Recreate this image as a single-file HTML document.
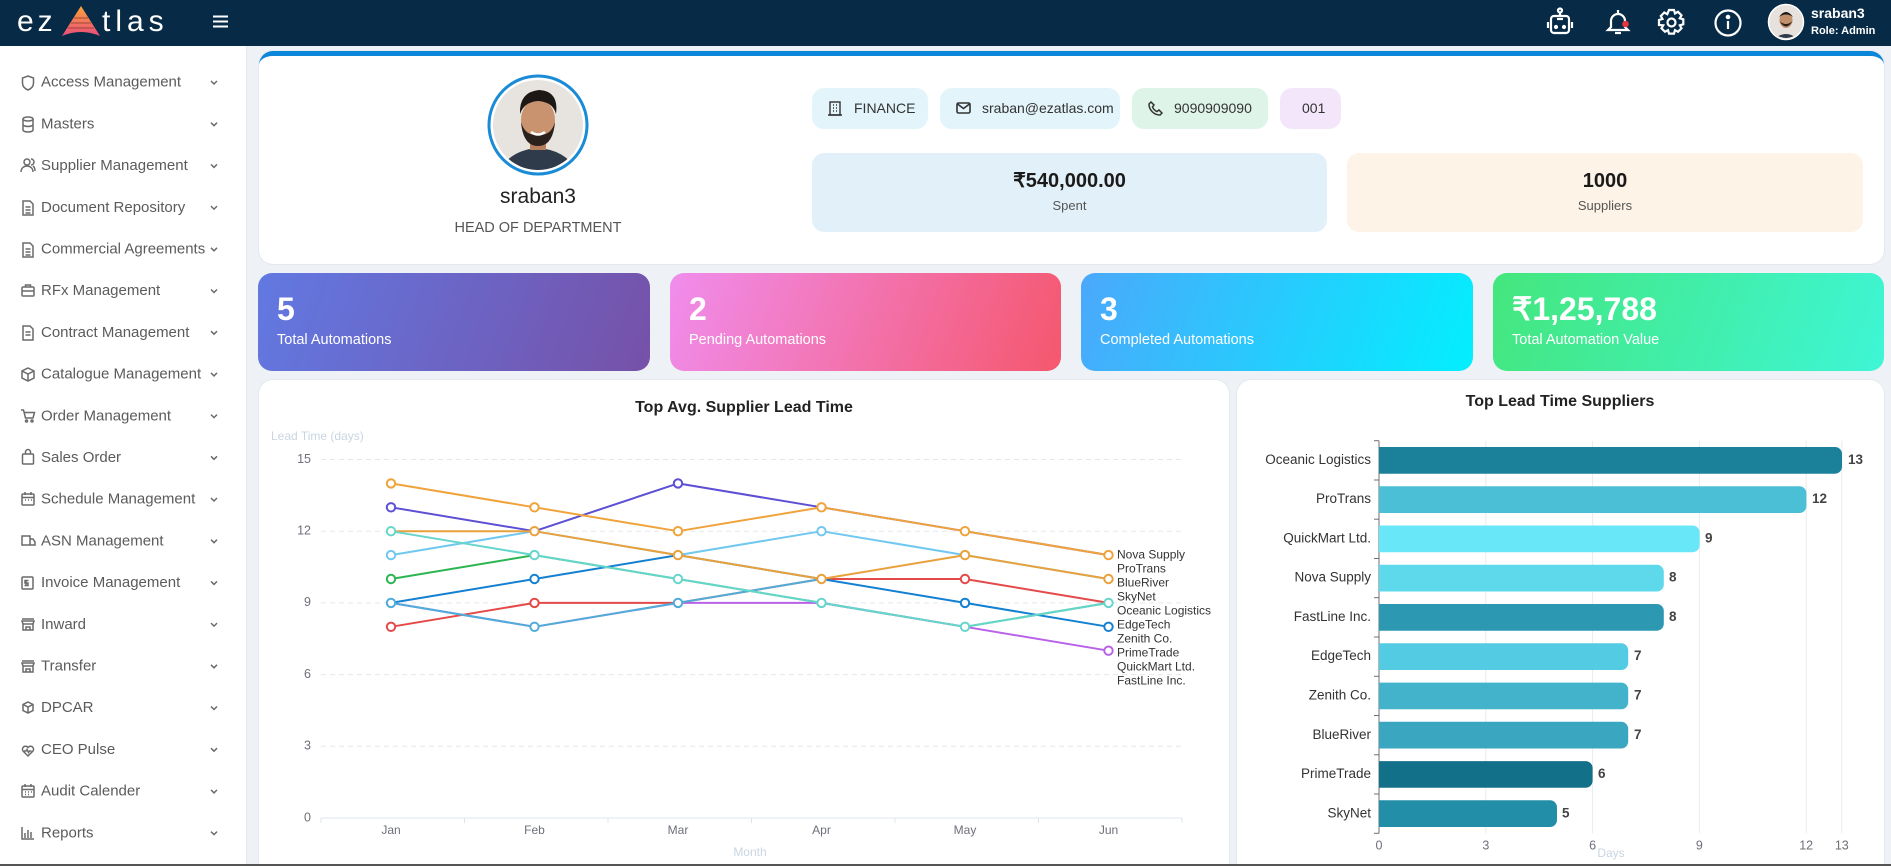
<!DOCTYPE html>
<html><head><meta charset="utf-8">
<style>
*{box-sizing:border-box;margin:0;padding:0}
html{width:1891px;height:866px;overflow:hidden}
body{width:1891px;height:866px;overflow:hidden;position:relative;background:#eef2f6;font-family:"Liberation Sans",Arial,sans-serif;color:#333}
.abs{position:absolute}
#hdr{left:0;top:0;width:1891px;height:46px;background:#072b47}
#side{left:0;top:46px;width:247px;height:820px;background:#fff;border-right:1px solid #e3e8ed}
.card{background:#fff;border-radius:14px}
.tag{position:absolute;top:88px;height:41px;border-radius:12px;font-size:14px;color:#333;line-height:41px}
.kpi{position:absolute;top:273px;height:98px;border-radius:14px;color:#fff}
.kpi .n{position:absolute;left:19px;top:17px;font-size:32px;font-weight:bold;line-height:38px}
.kpi .l{position:absolute;left:19px;top:57px;font-size:14.5px;line-height:20px}
</style></head><body>

<!-- header -->
<div id="hdr" class="abs">
  <div class="abs" style="left:17px;top:2px;font-size:30px;color:#fff;letter-spacing:4px;line-height:40px">ez</div>
  <svg class="abs" style="left:60px;top:5px" width="42" height="33" viewBox="0 0 42 33">
    <defs><linearGradient id="lg" x1="0" y1="0" x2="0" y2="1"><stop offset="0" stop-color="#f9a43a"/><stop offset="1" stop-color="#ec4c7c"/></linearGradient></defs>
    <path d="M21 1 L2 31 Q21 23 40 31 Z" fill="url(#lg)"/>
    <path d="M14 13 H28 M11 18 H31 M8 23 H34" stroke="#7a3a20" stroke-width="1.2" opacity=".55"/>
  </svg>
  <div class="abs" style="left:102px;top:2px;font-size:30px;color:#fff;letter-spacing:5px;line-height:40px">tlas</div>
  <svg class="abs" style="left:212px;top:15px" width="17" height="13"><path d="M1 1.5H16M1 6.5H16M1 11.5H16" stroke="#fff" stroke-width="2"/></svg>
  <svg class="abs" style="left:1545px;top:7px" width="30" height="30" viewBox="0 0 30 30" fill="none" stroke="#fff" stroke-width="2.2">
    <circle cx="15" cy="3.5" r="2"/><path d="M15 5.5V9"/><rect x="6" y="9" width="18" height="17" rx="3"/><path d="M3 15v6M27 15v6"/><circle cx="11" cy="20" r="1" fill="#fff"/><circle cx="19" cy="20" r="1" fill="#fff"/><path d="M12 12h6"/>
  </svg>
  <svg class="abs" style="left:1603px;top:7px" width="30" height="30" viewBox="0 0 30 30" fill="none" stroke="#fff" stroke-width="2.2">
    <path d="M15 3v3M8 20V14a7 7 0 0 1 14 0v6l3 3H5z"/><path d="M12 26h6"/><circle cx="22.5" cy="17" r="3.3" fill="#e8343f" stroke="none"/>
  </svg>
  <svg class="abs" style="left:1657px;top:8px" width="29" height="29" viewBox="0 0 29 29" fill="none" stroke="#fff" stroke-width="2.2">
    <path d="M12 2h5l1 3.5 3-1.7 3.5 3.5-1.7 3 3.5 1v5l-3.5 1 1.7 3-3.5 3.5-3-1.7-1 3.5h-5l-1-3.5-3 1.7-3.5-3.5 1.7-3L2 17v-5l3.5-1-1.7-3 3.5-3.5 3 1.7z"/><circle cx="14.5" cy="14.5" r="4"/>
  </svg>
  <svg class="abs" style="left:1713px;top:8px" width="30" height="30" viewBox="0 0 30 30" fill="none" stroke="#fff" stroke-width="2.2">
    <circle cx="15" cy="15" r="12.5"/><path d="M15 13v8"/><circle cx="15" cy="9" r="1.2" fill="#fff"/>
  </svg>
  <svg class="abs" style="left:1767px;top:3px" width="38" height="38" viewBox="0 0 38 38">
    <circle cx="19" cy="19" r="17.5" fill="#e6e1dc" stroke="#fff" stroke-width="1.5"/>
    <clipPath id="cs"><circle cx="19" cy="19" r="16"/></clipPath>
    <g clip-path="url(#cs)"><path d="M5 38 Q19 24 33 38Z" fill="#2d3848"/><ellipse cx="19" cy="17" rx="6.5" ry="8" fill="#c4906c"/><path d="M12 14 Q19 4 26 14 Q19 9 12 14Z" fill="#1f1a18"/><path d="M12.5 18 Q19 29 25.5 18 Q19 24 12.5 18Z" fill="#2a211d"/></g>
  </svg>
  <div class="abs" style="left:1811px;top:4px;font-size:14px;font-weight:bold;color:#fff;line-height:18px">sraban3</div>
  <div class="abs" style="left:1811px;top:23px;font-size:11px;font-weight:bold;color:#fff;line-height:16px">Role: Admin</div>
</div>

<div id="side" class="abs"></div>

<!-- profile card -->
<div class="abs card" style="left:259px;top:51px;width:1625px;height:213px;border-top:5px solid #0b86d8;box-shadow:0 0 0 1px #e4e9ee"></div>
<svg class="abs" style="left:487px;top:74px" width="102" height="102" viewBox="0 0 102 102">
  <circle cx="51" cy="51" r="49" fill="#fff" stroke="#1a8bd6" stroke-width="3"/>
  <clipPath id="cb"><circle cx="51" cy="51" r="45"/></clipPath>
  <g clip-path="url(#cb)">
    <rect width="102" height="102" fill="#e7e3de"/>
    <path d="M8 104 Q20 76 51 74 Q82 76 94 104Z" fill="#2f3a4b"/>
    <rect x="43" y="62" width="16" height="14" fill="#b57f5c"/>
    <ellipse cx="51" cy="46" rx="17" ry="21" fill="#c8936e"/>
    <path d="M33 40 Q32 18 52 16 Q72 17 69 40 Q66 28 51 27 Q37 28 33 40Z" fill="#1d1816"/>
    <path d="M34 48 Q36 72 51 72 Q66 72 68 48 Q64 62 51 61 Q38 62 34 48Z" fill="#2b211c"/>
    <path d="M44 58 Q51 63 58 58" stroke="#fff" stroke-width="2.5" fill="none"/>
  </g>
</svg>
<div class="abs" style="left:438px;top:184px;width:200px;text-align:center;font-size:21px;color:#222;line-height:26px">sraban3</div>
<div class="abs" style="left:418px;top:219px;width:240px;text-align:center;font-size:14.5px;color:#555;line-height:18px">HEAD OF DEPARTMENT</div>

<div class="tag" style="left:812px;width:116px;background:#e3f4fb">
  <svg class="abs" style="left:16px;top:13px" width="14" height="15" viewBox="0 0 14 15" fill="none" stroke="#333" stroke-width="1.4"><rect x="2" y="1" width="10" height="13"/><path d="M0 14h14M5 4h1M8 4h1M5 7h1M8 7h1M5 10h1M8 10h1"/></svg>
  <span class="abs" style="left:42px;top:0">FINANCE</span></div>
<div class="tag" style="left:940px;width:180px;background:#e3f4fb">
  <svg class="abs" style="left:16px;top:14px" width="15" height="12" viewBox="0 0 15 12" fill="none" stroke="#333" stroke-width="1.6"><rect x="1" y="1" width="13" height="10" rx="1.5"/><path d="M1.5 2l6 4.5 6-4.5"/></svg>
  <span class="abs" style="left:42px;top:0">sraban@ezatlas.com</span></div>
<div class="tag" style="left:1132px;width:136px;background:#dff4e9">
  <svg class="abs" style="left:16px;top:13px" width="15" height="15" viewBox="0 0 15 15" fill="none" stroke="#333" stroke-width="1.5"><path d="M3 1l3 3-1.5 2a8 8 0 0 0 4.5 4.5L11 9l3 3-2 2C6 14 1 9 1 3z"/></svg>
  <span class="abs" style="left:42px;top:0">9090909090</span></div>
<div class="tag" style="left:1280px;width:61px;background:#f3e6fb"><span class="abs" style="left:22px;top:0">001</span></div>

<div class="abs" style="left:812px;top:153px;width:515px;height:79px;border-radius:12px;background:#e2f1f9">
  <div class="abs" style="left:0;top:16px;width:515px;text-align:center;font-size:20px;font-weight:bold;color:#1a1a1a;line-height:24px">₹540,000.00</div>
  <div class="abs" style="left:0;top:44px;width:515px;text-align:center;font-size:13px;color:#555;line-height:18px">Spent</div>
</div>
<div class="abs" style="left:1347px;top:153px;width:516px;height:79px;border-radius:12px;background:#fdf3e6">
  <div class="abs" style="left:0;top:16px;width:516px;text-align:center;font-size:20px;font-weight:bold;color:#1a1a1a;line-height:24px">1000</div>
  <div class="abs" style="left:0;top:44px;width:516px;text-align:center;font-size:13px;color:#555;line-height:18px">Suppliers</div>
</div>

<!-- KPI -->
<div class="kpi" style="left:258px;width:392px;background:linear-gradient(110deg,#6179e2,#7651a8)"><div class="n">5</div><div class="l">Total Automations</div></div>
<div class="kpi" style="left:670px;width:391px;background:linear-gradient(110deg,#f08ded,#f5576d)"><div class="n">2</div><div class="l">Pending Automations</div></div>
<div class="kpi" style="left:1081px;width:392px;background:linear-gradient(110deg,#4ba8fc,#02effe)"><div class="n">3</div><div class="l">Completed Automations</div></div>
<div class="kpi" style="left:1493px;width:391px;background:linear-gradient(110deg,#44e67c,#3ef6d6)"><div class="n">₹1,25,788</div><div class="l">Total Automation Value</div></div>

<!-- chart panels -->
<div class="abs" style="left:259px;top:380px;width:970px;height:484px;background:#fff;border-radius:14px 14px 0 0;box-shadow:0 0 0 1px #e4e9ee"></div>
<div class="abs" style="left:1237px;top:380px;width:647px;height:484px;background:#fff;border-radius:14px 14px 0 0;box-shadow:0 0 0 1px #e4e9ee"></div>

<svg class="abs" style="left:0;top:0" width="1891" height="866" viewBox="0 0 1891 866" font-family="Liberation Sans, Arial, sans-serif">
  <text x="744" y="408" text-anchor="middle" dominant-baseline="middle" font-size="16" font-weight="bold" fill="#222">Top Avg. Supplier Lead Time</text>
  <text x="271" y="437" dominant-baseline="middle" font-size="12" fill="#c9d5e2">Lead Time (days)</text>
  <g stroke="#e3e7ee" stroke-dasharray="5 4" stroke-width="1">
    <line x1="321" y1="459.5" x2="1182" y2="459.5"/>
    <line x1="321" y1="531.2" x2="1182" y2="531.2"/>
    <line x1="321" y1="602.9" x2="1182" y2="602.9"/>
    <line x1="321" y1="674.6" x2="1182" y2="674.6"/>
    <line x1="321" y1="746.3" x2="1182" y2="746.3"/>
  </g>
  <line x1="321" y1="818" x2="1182" y2="818" stroke="#dfe4ec"/>
  <g stroke="#dfe4ec"><line x1="321" y1="818" x2="321" y2="823"/><line x1="464.5" y1="818" x2="464.5" y2="823"/><line x1="608" y1="818" x2="608" y2="823"/><line x1="751.5" y1="818" x2="751.5" y2="823"/><line x1="895" y1="818" x2="895" y2="823"/><line x1="1038.5" y1="818" x2="1038.5" y2="823"/><line x1="1182" y1="818" x2="1182" y2="823"/></g>
  <g font-size="12.5" fill="#6e7079" text-anchor="end" dominant-baseline="middle">
    <text x="311" y="459.5">15</text><text x="311" y="531.2">12</text><text x="311" y="602.9">9</text><text x="311" y="674.6">6</text><text x="311" y="746.3">3</text><text x="311" y="818">0</text>
  </g>
  <g font-size="12" fill="#6e7079" text-anchor="middle" dominant-baseline="middle">
    <text x="391" y="831">Jan</text><text x="534.5" y="831">Feb</text><text x="678" y="831">Mar</text><text x="821.5" y="831">Apr</text><text x="965" y="831">May</text><text x="1108.5" y="831">Jun</text>
  </g>
  <text x="750" y="853" text-anchor="middle" dominant-baseline="middle" font-size="12" fill="#c9d5e2">Month</text>

  <g fill="none" stroke-width="2" stroke-linejoin="round">
    <polyline stroke="#5c4fd4" points="391,507.3 534.5,531.2 678,483.4 821.5,507.3 965,531.2 1108.5,555.1"/>
    <polyline stroke="#70c8f0" points="391,555.1 534.5,531.2 678,555.1 821.5,531.2 965,555.1 1108.5,579"/>
    <polyline stroke="#2db552" points="391,579 534.5,555.1 678,579 821.5,602.9 965,626.8 1108.5,602.9"/>
    <polyline stroke="#b862e8" points="391,602.9 534.5,626.8 678,602.9 821.5,602.9 965,626.8 1108.5,650.7"/>
    <polyline stroke="#e44a4a" points="391,626.8 534.5,602.9 678,602.9 821.5,579 965,579 1108.5,602.9"/>
    <polyline stroke="#1480d2" points="391,602.9 534.5,579 678,555.1 821.5,579 965,602.9 1108.5,626.8"/>
    <polyline stroke="#50acd8" points="391,602.9 534.5,626.8 678,602.9 821.5,579"/>
    <polyline stroke="#e9a13b" points="391,531.2 534.5,531.2 678,555.1 821.5,579 965,555.1 1108.5,579"/>
    <polyline stroke="#66d6cc" points="391,531.2 534.5,555.1 678,579 821.5,602.9 965,626.8 1108.5,602.9"/>
    <polyline stroke="#f0a33a" points="391,483.4 534.5,507.3 678,531.2 821.5,507.3 965,531.2 1108.5,555.1"/>
  </g>
  <g fill="#fff" stroke-width="2">
    <circle cx="391" cy="507.3" r="4.2" stroke="#5c4fd4"/><circle cx="678" cy="483.4" r="4.2" stroke="#5c4fd4"/>
    <circle cx="391" cy="555.1" r="4.2" stroke="#70c8f0"/><circle cx="821.5" cy="531.2" r="4.2" stroke="#70c8f0"/>
    <circle cx="391" cy="579" r="4.2" stroke="#2db552"/>
    <circle cx="1108.5" cy="650.7" r="4.2" stroke="#b862e8"/>
    <circle cx="391" cy="626.8" r="4.2" stroke="#e44a4a"/><circle cx="534.5" cy="602.9" r="4.2" stroke="#e44a4a"/><circle cx="965" cy="579" r="4.2" stroke="#e44a4a"/>
    <circle cx="534.5" cy="579" r="4.2" stroke="#1480d2"/><circle cx="965" cy="602.9" r="4.2" stroke="#1480d2"/><circle cx="1108.5" cy="626.8" r="4.2" stroke="#1480d2"/>
    <circle cx="391" cy="602.9" r="4.2" stroke="#50acd8"/><circle cx="534.5" cy="626.8" r="4.2" stroke="#50acd8"/><circle cx="678" cy="602.9" r="4.2" stroke="#50acd8"/>
    <circle cx="534.5" cy="531.2" r="4.2" stroke="#e9a13b"/><circle cx="678" cy="555.1" r="4.2" stroke="#e9a13b"/><circle cx="821.5" cy="579" r="4.2" stroke="#e9a13b"/><circle cx="965" cy="555.1" r="4.2" stroke="#e9a13b"/><circle cx="1108.5" cy="579" r="4.2" stroke="#e9a13b"/>
    <circle cx="391" cy="531.2" r="4.2" stroke="#66d6cc"/><circle cx="534.5" cy="555.1" r="4.2" stroke="#66d6cc"/><circle cx="678" cy="579" r="4.2" stroke="#66d6cc"/><circle cx="821.5" cy="602.9" r="4.2" stroke="#66d6cc"/><circle cx="965" cy="626.8" r="4.2" stroke="#66d6cc"/><circle cx="1108.5" cy="602.9" r="4.2" stroke="#66d6cc"/>
    <circle cx="391" cy="483.4" r="4.2" stroke="#f0a33a"/><circle cx="534.5" cy="507.3" r="4.2" stroke="#f0a33a"/><circle cx="678" cy="531.2" r="4.2" stroke="#f0a33a"/><circle cx="821.5" cy="507.3" r="4.2" stroke="#f0a33a"/><circle cx="965" cy="531.2" r="4.2" stroke="#f0a33a"/><circle cx="1108.5" cy="555.1" r="4.2" stroke="#f0a33a"/>
  </g>
  <g font-size="12" fill="#333" dominant-baseline="middle">
    <text x="1117" y="555.3">Nova Supply</text><text x="1117" y="569.3">ProTrans</text><text x="1117" y="583.3">BlueRiver</text><text x="1117" y="597.3">SkyNet</text><text x="1117" y="611.3">Oceanic Logistics</text><text x="1117" y="625.3">EdgeTech</text><text x="1117" y="639.3">Zenith Co.</text><text x="1117" y="653.3">PrimeTrade</text><text x="1117" y="667.3">QuickMart Ltd.</text><text x="1117" y="681.3">FastLine Inc.</text>
  </g>

  <text x="1560" y="402" text-anchor="middle" dominant-baseline="middle" font-size="16" font-weight="bold" fill="#222">Top Lead Time Suppliers</text>
  <g stroke="#e8ebf0"><line x1="1485.8" y1="440.7" x2="1485.8" y2="833.3"/><line x1="1592.6" y1="440.7" x2="1592.6" y2="833.3"/><line x1="1699.4" y1="440.7" x2="1699.4" y2="833.3"/><line x1="1806.2" y1="440.7" x2="1806.2" y2="833.3"/><line x1="1841.8" y1="440.7" x2="1841.8" y2="833.3"/></g>
  <line x1="1379" y1="440.7" x2="1379" y2="833.3" stroke="#6e7079" stroke-width="1"/>
  <g stroke="#6e7079"><line x1="1374" y1="440.7" x2="1379" y2="440.7"/><line x1="1374" y1="480" x2="1379" y2="480"/><line x1="1374" y1="519.2" x2="1379" y2="519.2"/><line x1="1374" y1="558.5" x2="1379" y2="558.5"/><line x1="1374" y1="597.7" x2="1379" y2="597.7"/><line x1="1374" y1="637" x2="1379" y2="637"/><line x1="1374" y1="676.3" x2="1379" y2="676.3"/><line x1="1374" y1="715.5" x2="1379" y2="715.5"/><line x1="1374" y1="754.8" x2="1379" y2="754.8"/><line x1="1374" y1="794" x2="1379" y2="794"/><line x1="1374" y1="833.3" x2="1379" y2="833.3"/></g>
  <g>
    <path d="M1379 447h456a7 7 0 0 1 7 7v12.7a7 7 0 0 1-7 7h-456z" fill="#1b819b"/>
    <path d="M1379 486.3h420.4a7 7 0 0 1 7 7v12.7a7 7 0 0 1-7 7h-420.4z" fill="#4bbfd6"/>
    <path d="M1379 525.5h313.6a7 7 0 0 1 7 7v12.7a7 7 0 0 1-7 7h-313.6z" fill="#67e7f8"/>
    <path d="M1379 564.8h277.8a7 7 0 0 1 7 7v12.7a7 7 0 0 1-7 7h-277.8z" fill="#5dd9eb"/>
    <path d="M1379 604h277.8a7 7 0 0 1 7 7v12.7a7 7 0 0 1-7 7h-277.8z" fill="#2c98b2"/>
    <path d="M1379 643.3h242.2a7 7 0 0 1 7 7v12.7a7 7 0 0 1-7 7h-242.2z" fill="#53cbe2"/>
    <path d="M1379 682.6h242.2a7 7 0 0 1 7 7v12.7a7 7 0 0 1-7 7h-242.2z" fill="#42b3cb"/>
    <path d="M1379 721.8h242.2a7 7 0 0 1 7 7v12.7a7 7 0 0 1-7 7h-242.2z" fill="#3aa6c0"/>
    <path d="M1379 761.1h206.6a7 7 0 0 1 7 7v12.7a7 7 0 0 1-7 7h-206.6z" fill="#137089"/>
    <path d="M1379 800.3h171a7 7 0 0 1 7 7v12.7a7 7 0 0 1-7 7h-171z" fill="#238ea8"/>
  </g>
  <g font-size="13.5" fill="#333" text-anchor="end" dominant-baseline="middle">
    <text x="1371" y="460.3">Oceanic Logistics</text><text x="1371" y="499.6">ProTrans</text><text x="1371" y="538.9">QuickMart Ltd.</text><text x="1371" y="578.1">Nova Supply</text><text x="1371" y="617.4">FastLine Inc.</text><text x="1371" y="656.6">EdgeTech</text><text x="1371" y="695.9">Zenith Co.</text><text x="1371" y="735.2">BlueRiver</text><text x="1371" y="774.4">PrimeTrade</text><text x="1371" y="813.7">SkyNet</text>
  </g>
  <g font-size="13.5" font-weight="bold" fill="#444" dominant-baseline="middle">
    <text x="1848" y="460.3">13</text><text x="1812" y="499.6">12</text><text x="1705" y="538.9">9</text><text x="1669" y="578.1">8</text><text x="1669" y="617.4">8</text><text x="1634" y="656.6">7</text><text x="1634" y="695.9">7</text><text x="1634" y="735.2">7</text><text x="1598" y="774.4">6</text><text x="1562" y="813.7">5</text>
  </g>
  <g font-size="12.5" fill="#6e7079" text-anchor="middle" dominant-baseline="middle">
    <text x="1379" y="846">0</text><text x="1485.8" y="846">3</text><text x="1592.6" y="846">6</text><text x="1699.4" y="846">9</text><text x="1806.2" y="846">12</text><text x="1841.8" y="846">13</text>
  </g>
  <text x="1611" y="854" text-anchor="middle" dominant-baseline="middle" font-size="12" fill="#c9d5e2">Days</text>

  <g font-size="15" fill="#5b5b5b" dominant-baseline="middle">
    <text x="41" y="82.7">Access Management</text>
    <text x="41" y="124.4">Masters</text>
    <text x="41" y="166.1">Supplier Management</text>
    <text x="41" y="207.8">Document Repository</text>
    <text x="41" y="249.5">Commercial Agreements</text>
    <text x="41" y="291.2">RFx Management</text>
    <text x="41" y="332.9">Contract Management</text>
    <text x="41" y="374.6">Catalogue Management</text>
    <text x="41" y="416.3">Order Management</text>
    <text x="41" y="458">Sales Order</text>
    <text x="41" y="499.7">Schedule Management</text>
    <text x="41" y="541.4">ASN Management</text>
    <text x="41" y="583.1">Invoice Management</text>
    <text x="41" y="624.8">Inward</text>
    <text x="41" y="666.5">Transfer</text>
    <text x="41" y="708.2">DPCAR</text>
    <text x="41" y="749.9">CEO Pulse</text>
    <text x="41" y="791.6">Audit Calender</text>
    <text x="41" y="833.3">Reports</text>
  </g>
  <g fill="none" stroke="#6a6a6a" stroke-width="1.5">
    <path d="M211 81l3 3 3-3M211 122.7l3 3 3-3M211 164.4l3 3 3-3M211 206.1l3 3 3-3M211 247.8l3 3 3-3M211 289.5l3 3 3-3M211 331.2l3 3 3-3M211 372.9l3 3 3-3M211 414.6l3 3 3-3M211 456.3l3 3 3-3M211 498l3 3 3-3M211 539.7l3 3 3-3M211 581.4l3 3 3-3M211 623.1l3 3 3-3M211 664.8l3 3 3-3M211 706.5l3 3 3-3M211 748.2l3 3 3-3M211 789.9l3 3 3-3M211 831.6l3 3 3-3"/>
    <path d="M28 76l5.5 2v5c0 4-3 6-5.5 7-2.5-1-5.5-3-5.5-7v-5z"/>
    <ellipse cx="28" cy="119" rx="5" ry="2"/><path d="M23 119v11c0 1 2 2 5 2s5-1 5-2v-11M23 124.5c0 1 2 2 5 2s5-1 5-2"/>
    <circle cx="27" cy="162" r="3"/><path d="M21 172c0-4 3-6 6-6s6 2 6 6M31 159a3 3 0 0 1 0 6M33 166c1.5 1 2 3 2 5"/>
    <path d="M23 201h7l3 3v11H23z M25.5 207h5M25.5 210h5M25.5 213h5"/>
    <path d="M23 243h7l3 3v11H23z M25.5 249h5M25.5 252h5M25.5 255h5"/>
    <rect x="22" y="287" width="12" height="9" rx="1"/><path d="M25.5 287v-2h5v2M22 291h12"/>
    <path d="M23 326h7l3 3v11H23z M25.5 332h5M25.5 335h5"/>
    <path d="M28 368l6 3v7l-6 3-6-3v-7zM22 371l6 3 6-3M28 374v7"/>
    <path d="M21 410h2.5l2 8h7.5l1.5-5.5H24.5"/><circle cx="26.5" cy="421" r="1"/><circle cx="32" cy="421" r="1"/>
    <rect x="22.5" y="454" width="11" height="10" rx="1"/><path d="M25.5 454v-2a2.5 2.5 0 0 1 5 0v2"/>
    <rect x="22" y="494" width="12" height="11" rx="1"/><path d="M22 497.5h12M25 492v3M31 492v3M25 500h1M28 500h1M31 500h1"/>
    <path d="M22 536h8v9h-8zM30 539h3l2 3v3h-5"/>
    <rect x="22" y="577" width="11" height="12" rx="1"/><path d="M26 580v6M28.5 580.5h-3.5v2.5h3v2.5h-3.5"/>
    <path d="M22 619h12M22 621h12l-1 3H23zM23 624v6h10v-6M26 630v-3h4v3"/>
    <path d="M22 661h12M22 663h12l-1 3H23zM23 666v6h10v-6M26 672v-3h4v3"/>
    <path d="M28 702l5 2.5v6L28 713l-5-2.5v-6zM23 704.5l5 2.5 5-2.5M28 707v6"/>
    <path d="M28 756l-5-5a3 3 0 0 1 5-3.5 3 3 0 0 1 5 3.5zM24 751h2l1-1.5 1.5 3 1-1.5h2"/>
    <rect x="22" y="786" width="12" height="11" rx="1"/><path d="M22 789.5h12M25 784v3M31 784v3M25 792h1M28 792h1M31 792h1M25 794.5h1M28 794.5h1"/>
    <path d="M22 827v12h12M25 838v-5M28 838v-8M31 838v-6"/>
  </g>
</svg>

<div class="abs" style="left:0;top:864px;width:1891px;height:2px;background:#555"></div>
</body></html>
